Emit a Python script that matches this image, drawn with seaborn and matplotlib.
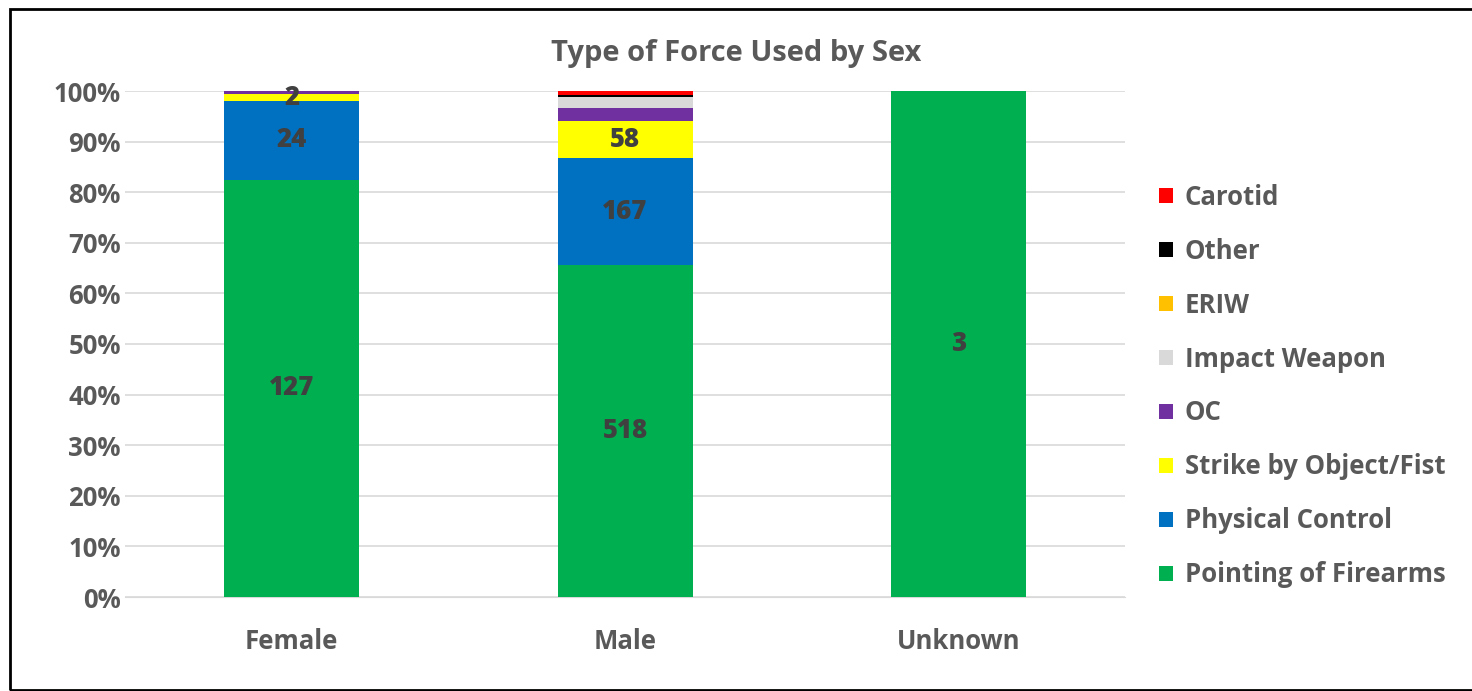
import numpy as np
import pandas as pd
import matplotlib.pyplot as plt
import seaborn as sns
from matplotlib.patches import Patch, Rectangle

# Data (counts)
sexes = ["Female", "Male", "Unknown"]
force_types = ["Pointing of Firearms", "Physical Control", "Strike by Object/Fist",
               "OC", "Impact Weapon", "ERIW", "Other", "Carotid"]
pointing = [127, 518, 3]
physical = [24, 167, 0]
strike = [2, 58, 0]
oc = [1, 20, 0]
impact = [0, 18, 0]
eriw = [0, 0, 0]
other = [0, 2, 0]
carotid = [0, 7, 0]
colors = ["#00B050", "#0070C0", "#FFFF00", "#7030A0", "#D9D9D9", "#FFC000", "#000000", "#FF0000"]
labelled = ["Pointing of Firearms", "Physical Control", "Strike by Object/Fist"]

counts = pd.DataFrame(
    [pointing, physical, strike, oc, impact, eriw, other, carotid],
    index=force_types, columns=sexes,
)
pct = counts / counts.sum(axis=0) * 100

sns.set_style("white")
plt.rcParams["font.family"] = ["Open Sans", "DejaVu Sans"]
plt.rcParams["font.weight"] = "bold"

fig = plt.figure(figsize=(14.72, 6.91), dpi=100)
ax = fig.add_axes([125 / 1472, 1 - 597 / 691, 1000 / 1472, 506 / 691])

bottom = np.zeros(len(sexes))
for ftype, col in zip(force_types, colors):
    vals = pct.loc[ftype].values
    sns.barplot(x=sexes, y=vals, bottom=bottom, color=col, width=0.405,
                saturation=1, linewidth=0, ax=ax, zorder=3)
    if ftype in labelled:
        for i, v in enumerate(vals):
            if counts.loc[ftype, sexes[i]] > 0:
                ax.text(i, bottom[i] + v / 2, str(counts.loc[ftype, sexes[i]]),
                        ha="center", va="center", fontsize=18.5, fontweight="heavy",
                        color="#404040", zorder=5)
    bottom += vals

ax.set_xlim(-0.5, 2.5)
ax.set_ylim(0, 100)
ax.set_yticks(np.arange(0, 101, 10))
ax.set_yticklabels([f"{t}%" for t in range(0, 101, 10)])
ax.yaxis.grid(True, color="#D9D9D9", linewidth=1.2, zorder=0)
ax.set_axisbelow(True)
for s in ["top", "right", "left"]:
    ax.spines[s].set_visible(False)
ax.spines["bottom"].set_color("#D9D9D9")
ax.tick_params(axis="both", length=0, labelsize=18.5, labelcolor="#595959", pad=3)
ax.tick_params(axis="x", pad=22)
for t in ax.get_xticklabels() + ax.get_yticklabels():
    t.set_fontweight("bold")
ax.set_xlabel("")
ax.set_ylabel("")

fig.text(0.5, 1 - 53 / 691, "Type of Force Used by Sex", ha="center", va="center",
         fontsize=21, fontweight="bold", color="#595959")

handles = [Patch(facecolor=c, edgecolor="none") for c in colors][::-1]
labels = force_types[::-1]
leg = fig.legend(handles, labels, loc="center left", bbox_to_anchor=(1136 / 1472, 1 - 386 / 691),
                 frameon=False, fontsize=18.5, labelcolor="#595959", handlelength=0.55,
                 handleheight=0.55, handletextpad=0.45, labelspacing=1.05)
for t in leg.get_texts():
    t.set_fontweight("bold")

fig.patches.append(Rectangle((10 / 1472, 0.002), 1.0, 1 - 10 / 691, transform=fig.transFigure,
                             fill=False, edgecolor="black", linewidth=2))

plt.savefig("out.png", dpi=100)
